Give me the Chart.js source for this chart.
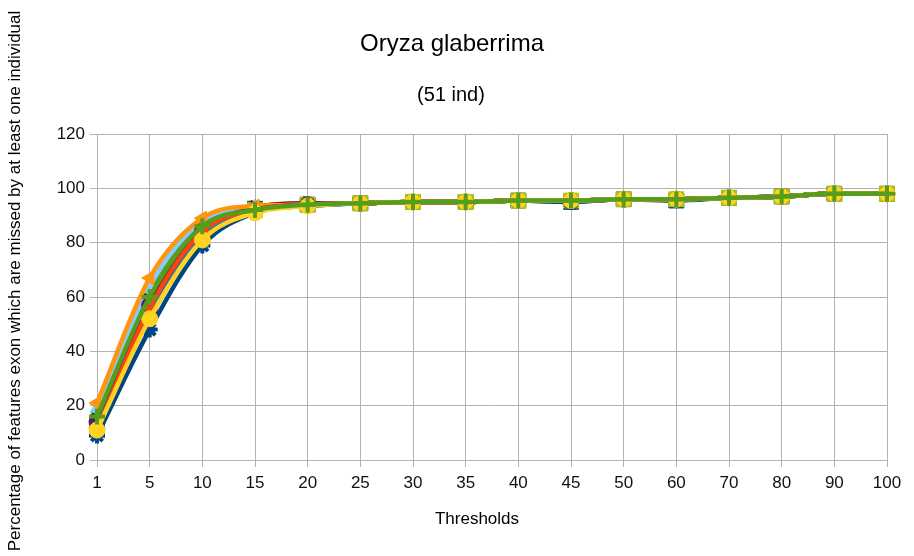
<!DOCTYPE html>
<html>
<head>
<meta charset="utf-8">
<script src="https://cdn.jsdelivr.net/npm/chart.js@4/dist/chart.umd.min.js"></script>
<style>
  html, body { margin: 0; padding: 0; background: #fff; }
  #wrap { width: 914px; height: 556px; position: relative; }
</style>
</head>
<body>
<div id="wrap"><canvas id="chart" width="914" height="556"></canvas></div>
<script>
// categories (thresholds)
const thresholds = ["1", "5", "10", "15", "20", "25", "30", "35", "40", "45", "50", "60", "70", "80", "90", "100"];
const yTicks = [0, 20, 40, 60, 80, 100, 120];

// one array per series
const s01 = [13, 57, 84, 92.5, 94, 94.5, 95, 95, 95.5, 95, 96, 95.5, 96.5, 97, 98, 98];
const s02 = [12, 55, 83, 92, 94, 94.5, 95, 95, 95.5, 95.5, 96, 96, 96.5, 97, 98, 98];
const s03 = [14, 56, 84, 92, 94, 94.5, 95, 95, 95.5, 95.5, 96, 96, 96.5, 97, 98, 98];
const s04 = [17, 61, 87, 93, 94, 94.5, 95, 95, 95.5, 95.5, 96, 96, 96.5, 97, 98, 98];
const s05 = [10, 58, 86, 93, 94.5, 94.5, 95, 95, 95.5, 95.5, 96, 96, 96.5, 97, 98, 98];
const s06 = [19, 64, 88, 93, 94, 94.5, 95, 95, 95.5, 95.5, 96, 96, 96.5, 97, 98, 98];
const s07 = [15, 59, 85, 92.5, 94, 94.5, 95, 95, 95.5, 95.5, 96, 96, 96.5, 97, 98, 98];
const s08 = [13, 55, 83, 92, 94, 94.5, 95, 95, 95.5, 95.5, 96, 96, 96.5, 97, 98, 98];
const s09 = [14, 57, 84, 92, 94, 94.5, 95, 95, 95.5, 95.5, 96, 96, 96.5, 97, 98, 98];
const s10 = [21, 67, 89, 93.5, 94, 94.5, 95, 95, 95.5, 95.5, 96, 96, 96.5, 97, 98, 98];
const s11 = [9, 54, 82, 92, 94, 94.5, 95, 95, 95.5, 95.5, 96, 96, 96.5, 97, 98, 98];
const s12 = [12, 53, 82, 91.5, 93.5, 94.5, 95, 95, 95.5, 95.5, 96, 96, 96.5, 97, 98, 98];
const s13 = [9, 48, 79, 91, 93.5, 94.5, 95, 95, 95.5, 95, 96, 96, 96.5, 97, 98, 98];
const s14 = [11, 56, 84, 92, 94, 94.5, 95, 95, 95.5, 95.5, 96, 96, 96.5, 97, 98, 98];
const s15 = [11, 52, 81, 91, 93.5, 94.5, 95, 95, 95.5, 95.5, 96, 96, 96.5, 97, 98, 98];
const s16 = [16, 60, 86, 92, 94, 94.5, 95, 95, 95.5, 95.5, 96, 96, 96.5, 97, 98, 98];

const seriesData = [s01, s02, s03, s04, s05, s06, s07, s08, s09, s10, s11, s12, s13, s14, s15, s16];
const seriesColors = ["#004586", "#ff420e", "#ffd320", "#579d1c", "#7e0021", "#83caff", "#314004", "#aecf00",
                      "#4b1f6f", "#ff950e", "#c5000b", "#0084d1", "#004586", "#ff420e", "#ffd320", "#579d1c"];
const seriesMarkers = ["rect", "rectRot", "triangle", "triangle", "triangle", "triangle", "crossRot", "rect",
                       "circle", "triangle", "dash", "cross", "star", "line", "circle", "cross"];
const markerRot = [0, 0, 180, 0, 90, 0, 0, 0, 0, 270, 0, 0, 0, 0, 0, 0];

const n = seriesData.length;
const thick = ["cross", "crossRot", "star", "line", "dash"];
const datasets = seriesData.map((d, i) => ({
  label: "Series " + (i + 1),
  data: d,
  borderColor: seriesColors[i],
  backgroundColor: seriesColors[i],
  borderWidth: 4.5,
  pointStyle: seriesMarkers[i],
  pointRotation: markerRot[i],
  pointRadius: seriesMarkers[i] === "rect" ? 10.5 : 8,
  pointBorderWidth: thick.includes(seriesMarkers[i]) ? 4 : 1,
  cubicInterpolationMode: "monotone",
  tension: 0.4,
  order: n - i
}));

const FONT = "'Liberation Sans', Arial, sans-serif";

// titles and axis names drawn by hand, so they sit where the reference has them
const textPlugin = {
  id: "texts",
  afterDraw(chart) {
    const ctx = chart.ctx;
    ctx.save();
    ctx.fillStyle = "#000";
    ctx.textAlign = "center";
    ctx.textBaseline = "middle";
    ctx.font = "24px " + FONT;
    ctx.fillText("Oryza glaberrima", 452, 44);
    ctx.font = "20px " + FONT;
    ctx.fillText("(51 ind)", 451, 95);
    ctx.font = "17px " + FONT;
    ctx.fillText("Thresholds", 477, 519);
    ctx.translate(15, 281);
    ctx.rotate(-Math.PI / 2);
    ctx.fillText("Percentage of features exon which are missed by at least one individual", 0, 0);
    ctx.restore();
  }
};

new Chart(document.getElementById("chart"), {
  type: "line",
  data: { labels: thresholds, datasets: datasets },
  options: {
    responsive: false,
    animation: false,
    layout: { padding: { left: 0, top: 134, right: 27, bottom: 0 } },
    plugins: {
      legend: { display: false },
      tooltip: { enabled: false }
    },
    scales: {
      x: {
        type: "category",
        offset: false,
        afterFit: s => { s.height = 96; },
        grid: { color: "#b3b3b3", tickLength: 7, drawOnChartArea: true },
        border: { color: "#b3b3b3" },
        ticks: {
          autoSkip: false, maxRotation: 0, padding: 6, color: "#111",
          font: { family: FONT, size: 17 }
        }
      },
      y: {
        min: 0, max: 120,
        afterFit: s => { s.width = 97; },
        afterBuildTicks: s => { s.ticks = yTicks.map(v => ({ value: v })); },
        grid: { color: "#b3b3b3", tickLength: 7 },
        border: { color: "#b3b3b3" },
        ticks: {
          padding: 5, color: "#111",
          font: { family: FONT, size: 17 }
        }
      }
    }
  },
  plugins: [textPlugin]
});
</script>
</body>
</html>
